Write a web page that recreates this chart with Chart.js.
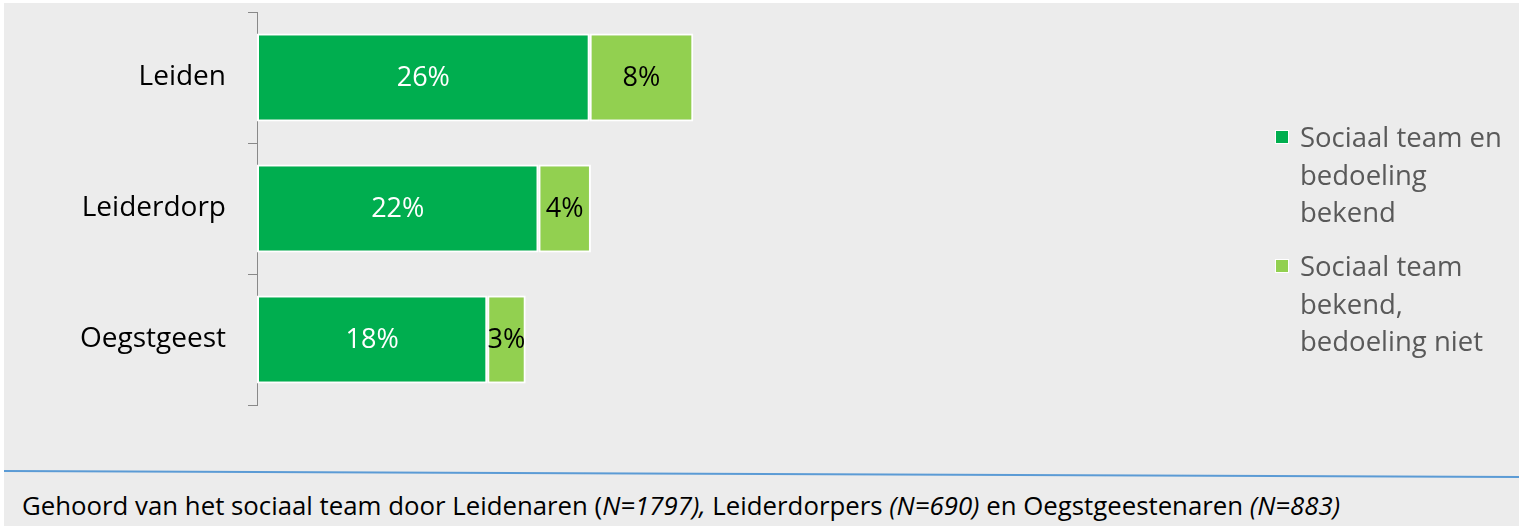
<!DOCTYPE html>
<html>
<head>
<meta charset="utf-8">
<script src="https://cdn.jsdelivr.net/npm/chart.js@4.4.1/dist/chart.umd.min.js"></script>
<style>
  html, body { margin:0; padding:0; background:#ffffff; width:1519px; height:526px; overflow:hidden; }
  #bg { position:absolute; left:4px; top:3px; width:1515px; height:523px; background:#ececec; }
  #wrap { position:absolute; left:0; top:0; width:1519px; height:465px; }
  #legend { position:absolute; left:1275px; top:118px; font-family:"Open Sans", sans-serif; font-size:27.5px; line-height:37.5px; color:#595959; }
  .item { position:relative; padding-left:25px; margin-bottom:16.5px; }
  .sw { position:absolute; left:0; top:12px; width:12px; height:12px; border:1px solid #ffffff; }
  #rule { position:absolute; left:0; top:0; }
  #footer { position:absolute; left:22px; top:488px; font-family:"Open Sans", sans-serif; font-size:25px; line-height:34px; color:#000; white-space:nowrap; transform-origin:0 0; }
  #footer i { font-style:italic; }
</style>
</head>
<body>
<div id="bg"></div>
<svg id="rule" width="1519" height="526"><line x1="4" y1="471" x2="1519" y2="477" stroke="#5b9bd5" stroke-width="2"/></svg>
<div id="wrap"><canvas id="c" width="1519" height="465"></canvas></div>
<div id="legend"></div>
<div id="footer">Gehoord van het sociaal team door Leidenaren (<i>N=1797),</i> Leiderdorpers <i>(N=690)</i> en Oegstgeestenaren <i>(N=883)</i></div>
<script>
const categories = ["Leiden", "Leiderdorp", "Oegstgeest"];
const seriesNames = [["Sociaal team en", "bedoeling", "bekend"], ["Sociaal team", "bekend,", "bedoeling niet"]];
const bekendBeide = [26, 22, 18];
const alleenTeam = [8.1, 4.1, 3];
const valueLabelsBeide = ["26%", "22%", "18%"];
const valueLabelsTeam = ["8%", "4%", "3%"];
const colors = ["#00ae4f", "#92d050"];
const labelColors = ["#ffffff", "#000000"];

const labelPlugin = {
  id: 'barLabels',
  afterDatasetsDraw(chart) {
    const ctx = chart.ctx;
    const lbls = [valueLabelsBeide, valueLabelsTeam];
    chart.data.datasets.forEach((ds, di) => {
      const meta = chart.getDatasetMeta(di);
      meta.data.forEach((el, i) => {
        const p = el.getProps(['x', 'y', 'base'], true);
        const cx = (p.x + p.base) / 2;
        ctx.save();
        ctx.font = '27px "Open Sans", sans-serif';
        ctx.fillStyle = labelColors[di];
        ctx.textAlign = 'center';
        ctx.textBaseline = 'middle';
        ctx.fillText(lbls[di][i], cx, p.y + 1);
        ctx.restore();
      });
    });
  }
};

new Chart(document.getElementById('c'), {
  type: 'bar',
  data: {
    labels: categories,
    datasets: [
      { label: seriesNames[0].join(' '), data: bekendBeide, backgroundColor: colors[0], borderColor: '#ffffff', borderWidth: 2, borderSkipped: false, barPercentage: 0.67, categoryPercentage: 1 },
      { label: seriesNames[1].join(' '), data: alleenTeam, backgroundColor: colors[1], borderColor: '#ffffff', borderWidth: 2, borderSkipped: false, barPercentage: 0.67, categoryPercentage: 1 }
    ]
  },
  options: {
    indexAxis: 'y',
    responsive: false,
    animation: false,
    layout: { padding: { left: 0, top: 12, right: 264, bottom: 60 } },
    plugins: { legend: { display: false }, tooltip: { enabled: false } },
    scales: {
      x: { stacked: true, min: 0, max: 78, display: false },
      y: {
        stacked: true,
        afterFit(scale) { scale.width = 257; scale.paddingTop = 0; scale.paddingBottom = 0; },
        grid: { display: true, drawOnChartArea: false, drawTicks: true, tickLength: 9, color: '#898989', offset: true },
        border: { display: true, color: '#898989', width: 1 },
        ticks: { color: '#000000', padding: 22, font: { family: '"Open Sans", sans-serif', size: 28 } }
      }
    }
  },
  plugins: [labelPlugin]
});

const legend = document.getElementById('legend');
seriesNames.forEach((lines, i) => {
  const it = document.createElement('div');
  it.className = 'item';
  const sw = document.createElement('span');
  sw.className = 'sw';
  sw.style.background = colors[i];
  it.appendChild(sw);
  const t = document.createElement('div');
  t.innerHTML = lines.join('<br>');
  it.appendChild(t);
  legend.appendChild(it);
});

const f = document.getElementById('footer');
const w = f.getBoundingClientRect().width;
f.style.transform = 'scaleX(' + (1318 / w) + ')';
</script>
</body>
</html>
